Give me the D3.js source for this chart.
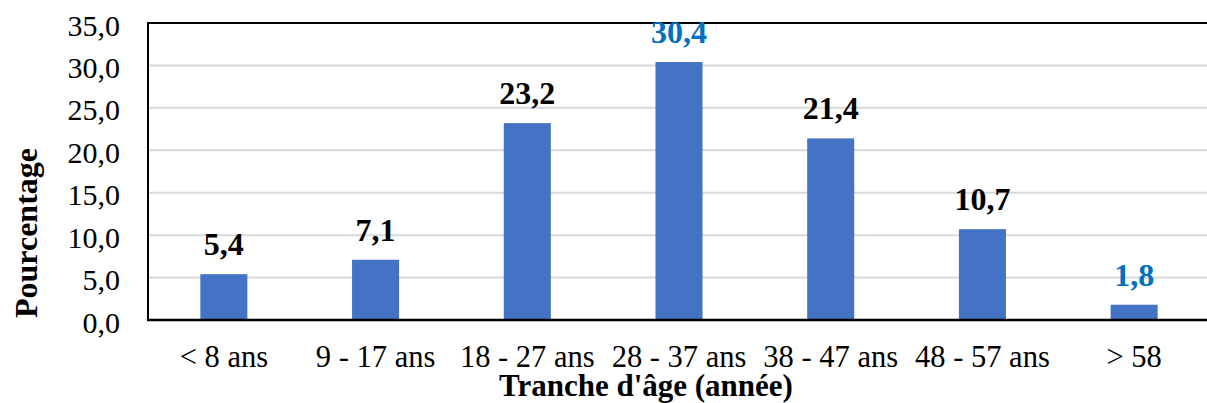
<!DOCTYPE html>
<html>
<head>
<meta charset="utf-8">
<script src="https://cdn.jsdelivr.net/npm/d3@7"></script>
<style>
  html, body { margin: 0; padding: 0; background: #fff; }
  svg { display: block; }
  svg text { font-family: "Liberation Serif", serif !important; }
</style>
</head>
<body>
<svg id="chart" width="1207" height="403"></svg>
<script>
const categories = ["< 8 ans", "9 - 17 ans", "18 - 27 ans", "28 - 37 ans", "38 - 47 ans", "48 - 57 ans", "> 58"];
const values = [5.4, 7.1, 23.2, 30.4, 21.4, 10.7, 1.8];
const labelColors = ["#000000", "#000000", "#000000", "#0070C0", "#000000", "#000000", "#0070C0"];
const yTicks = [0, 5, 10, 15, 20, 25, 30, 35];
const xTitle = "Tranche d'âge (année)";
const yTitle = "Pourcentage";

const svg = d3.select("#chart");
const m = { left: 148, top: 23, right: 1210, bottom: 320 };

const x = d3.scaleBand().domain(categories).range([m.left, m.right]).paddingInner(0.69).paddingOuter(0.345);
const y = d3.scaleLinear().domain([0, 35]).range([m.bottom, m.top]);
const fmt = v => d3.format(".1f")(v).replace(".", ",");

// gridlines
svg.append("g").selectAll("line").data(yTicks.filter(t => t > 0 && t < 35)).join("line")
  .attr("x1", m.left).attr("x2", m.right)
  .attr("y1", d => y(d)).attr("y2", d => y(d))
  .attr("stroke", "#D9D9D9").attr("stroke-width", 2);

// bars
svg.append("g").selectAll("rect").data(values).join("rect")
  .attr("x", (d, i) => x(categories[i]))
  .attr("width", x.bandwidth())
  .attr("y", d => y(d))
  .attr("height", d => y(0) - y(d))
  .attr("fill", "#4472C4");

// frame: top, left, bottom
svg.append("line").attr("x1", m.left).attr("x2", m.right).attr("y1", y(35)).attr("y2", y(35)).attr("stroke", "#000").attr("stroke-width", 2);
svg.append("line").attr("x1", m.left).attr("x2", m.left).attr("y1", y(35) - 1).attr("y2", y(0) + 1).attr("stroke", "#000").attr("stroke-width", 2);
svg.append("line").attr("x1", m.left - 1).attr("x2", m.right).attr("y1", y(0)).attr("y2", y(0)).attr("stroke", "#000").attr("stroke-width", 2.5);

// y axis labels
const yAxis = d3.axisLeft(y).tickValues(yTicks).tickFormat(fmt).tickSize(0).tickPadding(28);
const ya = svg.append("g").attr("transform", `translate(${m.left},0)`).call(yAxis);
ya.select(".domain").remove();
ya.selectAll("text").style("font-size", "30px").attr("fill", "#000").attr("dy", "0.4em");

// x axis labels
const xAxis = d3.axisBottom(x).tickSize(0).tickPadding(0);
const xa = svg.append("g").attr("transform", `translate(0,${m.bottom})`).call(xAxis);
xa.select(".domain").remove();
xa.selectAll("text").style("font-size", "30.5px").attr("fill", "#000").attr("dy", null).attr("y", 47);

// value labels
svg.append("g").selectAll("text").data(values).join("text")
  .attr("x", (d, i) => x(categories[i]) + x.bandwidth() / 2)
  .attr("y", d => y(d) - 19)
  .attr("text-anchor", "middle")
  .style("font-size", "32px").style("font-weight", "bold")
  .attr("fill", (d, i) => labelColors[i])
  .text(fmt);

// axis titles
svg.append("text").attr("x", 646).attr("y", 396).attr("text-anchor", "middle")
  .style("font-size", "31px").style("font-weight", "bold").text(xTitle);
svg.append("text").attr("transform", "translate(37,233) rotate(-90)").attr("text-anchor", "middle")
  .style("font-size", "32px").style("font-weight", "bold").text(yTitle);
</script>
</body>
</html>
